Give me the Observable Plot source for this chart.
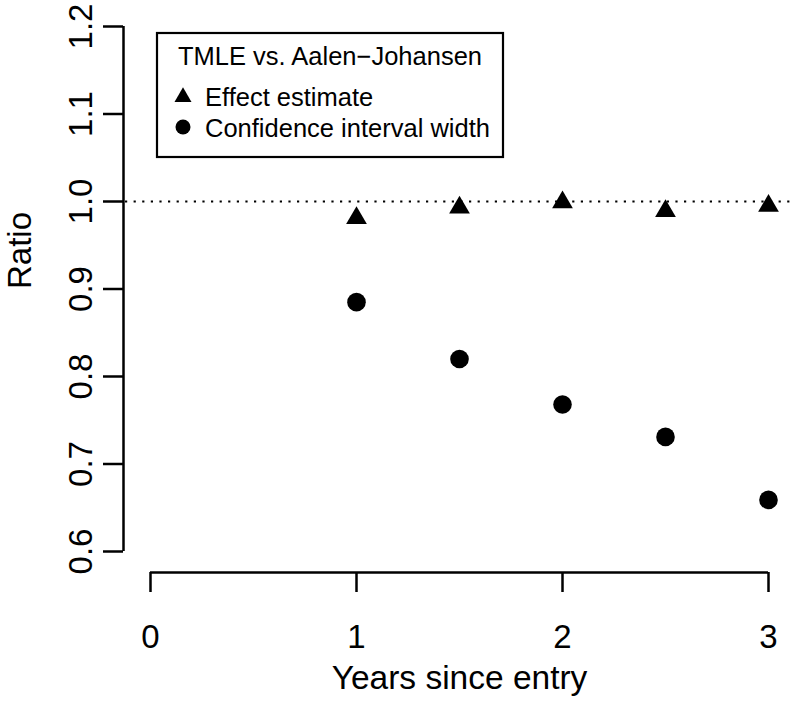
<!DOCTYPE html>
<html>
<head>
<meta charset="utf-8">
<script src="https://cdn.jsdelivr.net/npm/d3@7"></script>
<script src="https://cdn.jsdelivr.net/npm/@observablehq/plot@0.6"></script>
<style>
  html, body { margin: 0; padding: 0; background: #fff; }
  #chart { width: 800px; height: 701px; }
</style>
</head>
<body>
<div id="chart"></div>
<script>
// ---- data ----
const years = [1, 1.5, 2, 2.5, 3];
const effectEstimate = [0.981, 0.993, 0.999, 0.989, 0.995];
const ciWidth = [0.885, 0.820, 0.768, 0.731, 0.659];
const xTicks = [0, 1, 2, 3];
const yTicks = [0.6, 0.7, 0.8, 0.9, 1.0, 1.1, 1.2];
const refLine = [1.0];
const xLabel = "Years since entry";
const yLabel = "Ratio";
const legendTitle = "TMLE vs. Aalen\u2212Johansen";
const seriesNames = ["Effect estimate", "Confidence interval width"];

const effectData = years.map((x, i) => ({x, y: effectEstimate[i]}));
const ciData = years.map((x, i) => ({x, y: ciWidth[i]}));

const FONT = "'Liberation Sans', Arial, Helvetica, sans-serif";

const chart = Plot.plot({
  width: 800,
  height: 701,
  marginLeft: 150,
  marginRight: 32,
  marginTop: 26,
  marginBottom: 150,
  style: {fontFamily: FONT, background: "white", color: "black"},
  x: {domain: [xTicks[0], xTicks[xTicks.length - 1]]},
  y: {domain: [yTicks[0], yTicks[yTicks.length - 1]]},
  marks: [
    // reference line
    Plot.ruleY(refLine, {stroke: "black", strokeWidth: 2.2, strokeDasharray: "2.2,6.4", insetLeft: -25, insetRight: -25}),
    // axis lines
    Plot.ruleX([xTicks[0]], {dx: -27, stroke: "black", strokeWidth: 2.5}),
    Plot.ruleY([yTicks[0]], {dy: 21, stroke: "black", strokeWidth: 2.5}),
    Plot.axisY({ticks: yTicks, tickSize: 20, dx: -27, tickPadding: 12, tickRotate: -90,
      tickFormat: d3.format(".1f"), fontSize: 33, label: null, strokeWidth: 2.5}),
    Plot.axisX({ticks: xTicks, tickSize: 20, dy: 21, tickPadding: 32,
      tickFormat: d3.format("d"), fontSize: 33, label: null, strokeWidth: 2.5}),
    // axis titles
    Plot.text([xLabel], {frameAnchor: "bottom", dy: 137, lineAnchor: "bottom", fontSize: 33.5, fill: "black"}),
    Plot.text([yLabel], {frameAnchor: "left", dx: -120, rotate: -90, lineAnchor: "bottom", fontSize: 33, fill: "black"}),
    // points
    Plot.dot(effectData, {x: "x", y: "y", symbol: "triangle", r: 7.7, fill: "black", stroke: "none"}),
    Plot.dot(ciData, {x: "x", y: "y", symbol: "circle", r: 9.3, fill: "black", stroke: "none"})
  ]
});

document.getElementById("chart").appendChild(chart);

// ---- legend (boxed, R style) ----
const svg = d3.select(chart);
const lg = svg.append("g").attr("font-family", FONT).attr("font-size", 25.5)
  .attr("fill", "black").attr("text-anchor", "start");
lg.append("rect").attr("x", 157).attr("y", 33).attr("width", 346).attr("height", 124)
  .attr("fill", "white").attr("stroke", "black").attr("stroke-width", 2.2);
lg.append("text").attr("x", 330).attr("y", 65).attr("text-anchor", "middle").text(legendTitle);
lg.append("path").attr("transform", "translate(183,97)")
  .attr("d", d3.symbol(d3.symbolTriangle, 125)()).attr("fill", "black");
lg.append("text").attr("x", 205).attr("y", 106).attr("text-anchor", "start").text(seriesNames[0]);
lg.append("circle").attr("cx", 183).attr("cy", 127).attr("r", 7.5).attr("fill", "black");
lg.append("text").attr("x", 205).attr("y", 137).attr("text-anchor", "start").text(seriesNames[1]);
</script>
</body>
</html>
